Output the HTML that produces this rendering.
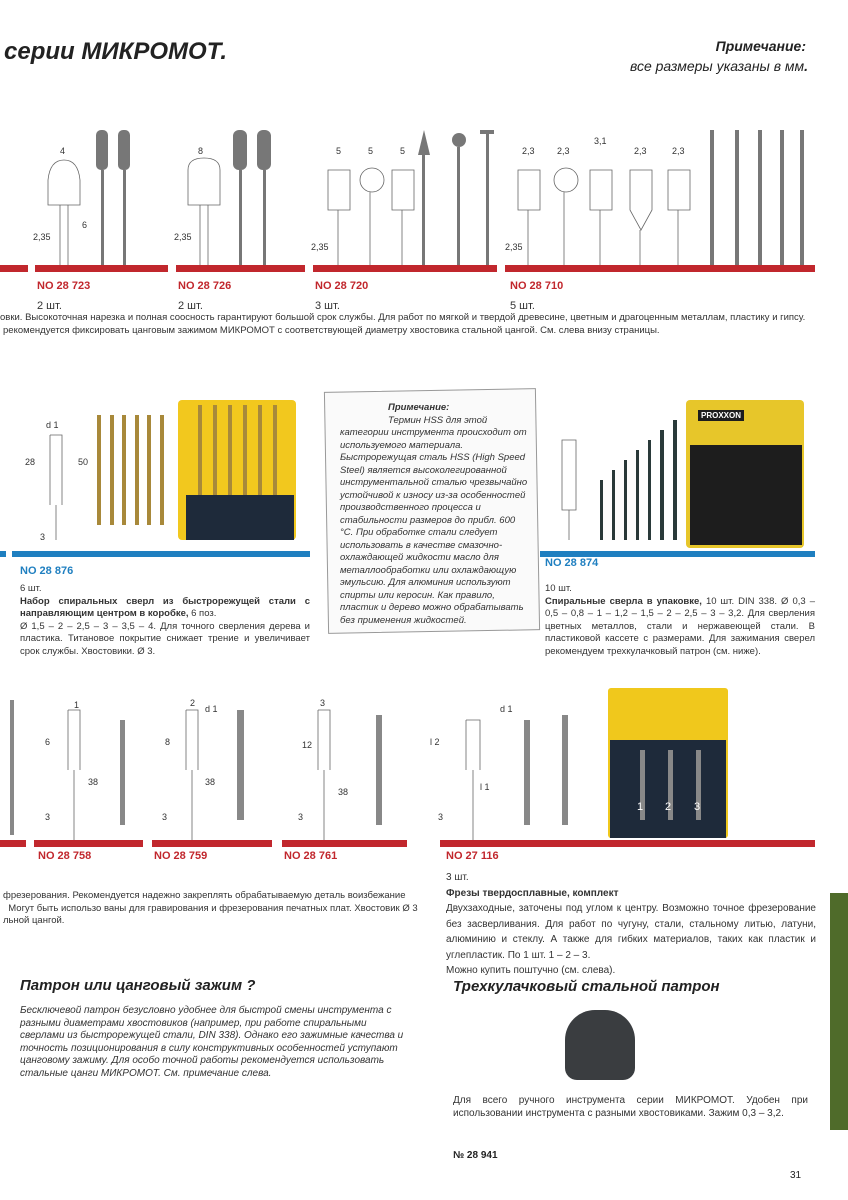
<!DOCTYPE html>
<html><head><meta charset="utf-8"><style>
body{margin:0;width:848px;height:1200px;position:relative;background:#fff;font-family:"Liberation Sans",sans-serif;color:#222;overflow:hidden}
.a{position:absolute}
.red{background:#c1272d;height:7px}
.blue{background:#1f7fc0;height:6px}
.no{font-weight:bold;font-size:11px}
.r{color:#c1272d}.b{color:#1f7fc0}
.t{font-size:9.5px;line-height:12.5px;color:#333}
.g{background:#8a8f94}
.dark{background:#333}
</style></head><body>
<div class="a" style="left:4px;top:38px;font-size:24px;font-weight:bold;font-style:italic">серии МИКРОМОТ.</div>
<div class="a" style="right:42px;top:38px;font-size:14px;font-weight:bold;font-style:italic;text-align:right">Примечание:</div>
<div class="a" style="right:40px;top:58px;font-size:14px;font-style:italic;text-align:right">все размеры указаны в мм<b>.</b></div>

<!-- top tools -->
<svg class="a" style="left:0;top:120px" width="848" height="145">
<g fill="#777">
<rect x="96" y="10" width="12" height="40" rx="5"/><rect x="118" y="10" width="12" height="40" rx="5"/>
<rect x="101" y="50" width="3" height="95"/><rect x="123" y="50" width="3" height="95"/>
<rect x="233" y="10" width="14" height="40" rx="6"/><rect x="257" y="10" width="14" height="40" rx="6"/>
<rect x="239" y="50" width="3" height="95"/><rect x="263" y="50" width="3" height="95"/>
<polygon points="424,10 418,35 430,35"/><circle cx="459" cy="20" r="7"/><rect x="480" y="10" width="14" height="4"/>
<rect x="422" y="35" width="3" height="110"/><rect x="457" y="27" width="3" height="118"/><rect x="486" y="14" width="3" height="131"/>
<rect x="710" y="10" width="4" height="135"/><rect x="735" y="10" width="4" height="135"/><rect x="758" y="10" width="4" height="135"/><rect x="780" y="10" width="4" height="135"/><rect x="800" y="10" width="4" height="135"/>
</g>
<g fill="none" stroke="#666" stroke-width="0.8">
<path d="M48 60 Q50 40 64 40 Q78 40 80 60 V85 H48Z M60 85 V145 M68 85 V145"/>
<path d="M188 50 Q188 38 204 38 Q220 38 220 50 V85 H188Z M200 85 V145 M208 85 V145"/>
<path d="M328 50 H350 V90 H328Z M338 90 V145 M360 60 a12 12 0 1 0 24 0 a12 12 0 1 0 -24 0 M370 72 V145 M392 50 H414 V90 H392Z M402 90V145"/>
<path d="M518 50 H540 V90 H518Z M528 90 V145 M554 60 a12 12 0 1 0 24 0 a12 12 0 1 0 -24 0 M564 72V145 M590 50 H612 V90 H590Z M600 90V145 M630 50 H652 V90 L641 110 L630 90Z M640 110V145 M668 50 H690 V90 H668Z M678 90V145"/>
</g>
<g font-size="9" fill="#333"><text x="60" y="34">4</text><text x="198" y="34">8</text><text x="336" y="34">5</text><text x="368" y="34">5</text><text x="400" y="34">5</text><text x="522" y="34">2,3</text><text x="557" y="34">2,3</text><text x="594" y="24">3,1</text><text x="634" y="34">2,3</text><text x="672" y="34">2,3</text><text x="33" y="120">2,35</text><text x="174" y="120">2,35</text><text x="311" y="130">2,35</text><text x="505" y="130">2,35</text><text x="82" y="108">6</text></g>
</svg>
<div class="a red" style="left:0;top:265px;width:28px"></div>
<div class="a red" style="left:35px;top:265px;width:133px"></div>
<div class="a red" style="left:176px;top:265px;width:129px"></div>
<div class="a red" style="left:313px;top:265px;width:184px"></div>
<div class="a red" style="left:505px;top:265px;width:310px"></div>
<div class="a no r" style="left:37px;top:280px">NO 28 723</div>
<div class="a no r" style="left:178px;top:280px">NO 28 726</div>
<div class="a no r" style="left:315px;top:280px">NO 28 720</div>
<div class="a no r" style="left:510px;top:280px">NO 28 710</div>
<div class="a t" style="left:37px;top:300px;font-size:11px">2 шт.</div>
<div class="a t" style="left:178px;top:300px;font-size:11px">2 шт.</div>
<div class="a t" style="left:315px;top:300px;font-size:11px">3 шт.</div>
<div class="a t" style="left:510px;top:300px;font-size:11px">5 шт.</div>
<div class="a t" style="left:0;top:312px;white-space:nowrap">овки. Высокоточная нарезка и полная соосность гарантируют большой срок службы. Для работ по мягкой и твердой древесине, цветным и драгоценным металлам, пластику и гипсу.</div>
<div class="a t" style="left:3px;top:325px;white-space:nowrap">рекомендуется фиксировать цанговым зажимом МИКРОМОТ с соответствующей диаметру хвостовика стальной цангой. См. слева внизу страницы.</div>

<!-- middle -->
<div class="a" style="left:178px;top:400px;width:118px;height:140px;background:#f2c81e;border-radius:4px"></div>
<div class="a" style="left:186px;top:495px;width:108px;height:45px;background:#1e2a3a"></div>
<div class="a" style="left:686px;top:400px;width:118px;height:148px;background:#e7c62a;border-radius:4px"></div>
<div class="a" style="left:690px;top:445px;width:112px;height:100px;background:#1d1d1d"></div>
<div class="a" style="left:698px;top:410px;font-size:8px;font-weight:bold;background:#1d1d1d;color:#fff;padding:1px 3px">PROXXON</div>
<svg class="a" style="left:0;top:390px" width="848" height="160"><g fill="#a8893a">
<rect x="97" y="25" width="4" height="110"/><rect x="110" y="25" width="4" height="110"/><rect x="122" y="25" width="4" height="110"/><rect x="135" y="25" width="4" height="110"/><rect x="147" y="25" width="4" height="110"/><rect x="160" y="25" width="4" height="110"/>
<rect x="198" y="15" width="4" height="90"/><rect x="213" y="15" width="4" height="90"/><rect x="228" y="15" width="4" height="90"/><rect x="243" y="15" width="4" height="90"/><rect x="258" y="15" width="4" height="90"/><rect x="273" y="15" width="4" height="90"/></g>
<g fill="#2a3a3a"><rect x="600" y="90" width="3" height="60"/><rect x="612" y="80" width="3" height="70"/><rect x="624" y="70" width="3" height="80"/><rect x="636" y="60" width="3" height="90"/><rect x="648" y="50" width="3" height="100"/><rect x="660" y="40" width="4" height="110"/><rect x="673" y="30" width="4" height="120"/></g>
<g fill="none" stroke="#666" stroke-width="0.8"><path d="M50 45 H62 V115 M50 45 V115 M56 115 V150"/><path d="M562 50 H576 V120 H562Z M569 120 V150"/></g>
<g font-size="9" fill="#333"><text x="46" y="38">d 1</text><text x="25" y="75">28</text><text x="78" y="75">50</text><text x="40" y="150">3</text></g></svg>
<div class="a" style="left:326px;top:390px;width:210px;height:240px;border:1px solid #999;background:#fafafa;transform:rotate(-1deg)"></div>
<div class="a" style="left:340px;top:402px;width:188px;font-size:9.5px;line-height:12.5px;font-style:italic;color:#333"><b style="margin-left:48px">Примечание:</b><br><span style="margin-left:48px">Термин HSS для этой</span><br>категории инструмента происходит от используемого материала. Быстрорежущая сталь HSS (High Speed Steel) является высоколегированной инструментальной сталью чрезвычайно устойчивой к износу из-за особенностей производственного процесса и стабильности размеров до прибл. 600 °С. При обработке стали следует использовать в качестве смазочно-охлаждающей жидкости масло для металлообработки или охлаждающую эмульсию. Для алюминия используют спирты или керосин. Как правило, пластик и дерево можно обрабатывать без применения жидкостей.</div>
<div class="a blue" style="left:0;top:551px;width:6px"></div>
<div class="a blue" style="left:12px;top:551px;width:298px"></div>
<div class="a blue" style="left:540px;top:551px;width:275px"></div>
<div class="a no b" style="left:20px;top:565px">NO 28 876</div>
<div class="a no b" style="left:545px;top:557px">NO 28 874</div>
<div class="a t" style="left:20px;top:583px;width:290px;text-align:justify">6 шт.<br><b>Набор спиральных сверл из быстрорежущей стали с направляющим центром в коробке,</b> 6 поз.<br>Ø 1,5 – 2 – 2,5 – 3 – 3,5 – 4. Для точного сверления дерева и пластика. Титановое покрытие снижает трение и увеличивает срок службы. Хвостовики. Ø 3.</div>
<div class="a t" style="left:545px;top:583px;width:270px;text-align:justify">10 шт.<br><b>Спиральные сверла в упаковке,</b> 10 шт. DIN 338. Ø 0,3 – 0,5 – 0,8 – 1 – 1,2 – 1,5 – 2 – 2,5 – 3 – 3,2. Для сверления цветных металлов, стали и нержавеющей стали. В пластиковой кассете с размерами. Для зажимания сверел рекомендуем трехкулачковый патрон (см. ниже).</div>

<!-- cutters -->
<div class="a" style="left:608px;top:688px;width:120px;height:150px;background:#f0c81c;border-radius:3px"></div>
<div class="a" style="left:610px;top:740px;width:116px;height:98px;background:#1e2a3a"></div>
<svg class="a" style="left:0;top:690px" width="848" height="150"><g fill="#888"><rect x="10" y="10" width="4" height="135"/><rect x="120" y="30" width="5" height="105"/><rect x="237" y="20" width="7" height="110"/><rect x="376" y="25" width="6" height="110"/><rect x="524" y="30" width="6" height="105"/><rect x="562" y="25" width="6" height="110"/><rect x="640" y="60" width="5" height="70"/><rect x="668" y="60" width="5" height="70"/><rect x="696" y="60" width="5" height="70"/></g>
<g fill="none" stroke="#666" stroke-width="0.8"><path d="M68 20 H80 V80 M68 20 V80 M74 80V150 M186 20 H198 V80 M186 20V80 M192 80V150 M318 20 H330 V80 M318 20 V80 M324 80V150 M466 30 H480 V80 M466 30V80 M473 80V150"/></g>
<g font-size="9" fill="#333"><text x="74" y="18">1</text><text x="45" y="55">6</text><text x="88" y="95">38</text><text x="45" y="130">3</text><text x="190" y="16">2</text><text x="205" y="22">d 1</text><text x="165" y="55">8</text><text x="205" y="95">38</text><text x="162" y="130">3</text><text x="320" y="16">3</text><text x="302" y="58">12</text><text x="338" y="105">38</text><text x="298" y="130">3</text><text x="500" y="22">d 1</text><text x="430" y="55">l 2</text><text x="480" y="100">l 1</text><text x="438" y="130">3</text><text x="637" y="120" fill="#fff" font-size="11">1</text><text x="665" y="120" fill="#fff" font-size="11">2</text><text x="694" y="120" fill="#fff" font-size="11">3</text></g></svg>
<div class="a red" style="left:0;top:840px;width:26px"></div>
<div class="a red" style="left:34px;top:840px;width:109px"></div>
<div class="a red" style="left:152px;top:840px;width:120px"></div>
<div class="a red" style="left:282px;top:840px;width:125px"></div>
<div class="a red" style="left:440px;top:840px;width:375px"></div>
<div class="a no r" style="left:38px;top:850px">NO 28 758</div>
<div class="a no r" style="left:154px;top:850px">NO 28 759</div>
<div class="a no r" style="left:284px;top:850px">NO 28 761</div>
<div class="a no r" style="left:446px;top:850px">NO 27 116</div>
<div class="a t" style="left:3px;top:890px;width:420px">фрезерования. Рекомендуется надежно закреплять обрабатываемую деталь воизбежание<br>&nbsp;&nbsp;Могут быть использо ваны для гравирования и фрезерования печатных плат. Хвостовик Ø 3<br>льной цангой.</div>
<div class="a t" style="left:446px;top:870px;width:370px;text-align:justify;font-size:10px;line-height:15.5px">3 шт.<br><b>Фрезы твердосплавные, комплект</b><br>Двухзаходные, заточены под углом к центру. Возможно точное фрезерование без засверливания. Для работ по чугуну, стали, стальному литью, латуни, алюминию и стеклу. А также для гибких материалов, таких как пластик и углепластик. По 1 шт. 1 – 2 – 3.<br>Можно купить поштучно (см. слева).</div>
<div class="a" style="left:830px;top:893px;width:18px;height:237px;background:#4f6b2a"></div>
<div class="a" style="left:20px;top:977px;font-size:15px;font-weight:bold;font-style:italic">Патрон или цанговый зажим ?</div>
<div class="a t" style="left:20px;top:1005px;width:390px;font-style:italic;font-size:10px">Бесключевой патрон безусловно удобнее для быстрой смены инструмента с разными диаметрами хвостовиков (например, при работе спиральными сверлами из быстрорежущей стали, DIN 338). Однако его зажимные качества и точность позиционирования в силу конструктивных особенностей уступают цанговому зажиму. Для особо точной работы рекомендуется использовать стальные цанги МИКРОМОТ. См. примечание слева.</div>
<div class="a" style="left:453px;top:978px;font-size:15px;font-weight:bold;font-style:italic">Трехкулачковый стальной патрон</div>
<div class="a" style="left:565px;top:1010px;width:70px;height:70px;border-radius:30px 30px 12px 12px;background:#3a3d40"></div>
<div class="a t" style="left:453px;top:1095px;width:355px;text-align:justify;font-size:10px">Для всего ручного инструмента серии МИКРОМОТ. Удобен при использовании инструмента с разными хвостовиками. Зажим 0,3 – 3,2.</div>
<div class="a" style="left:453px;top:1150px;font-size:10px;font-weight:bold">№ 28 941</div>
<div class="a" style="left:790px;top:1170px;font-size:10px">31</div>
</body></html>
